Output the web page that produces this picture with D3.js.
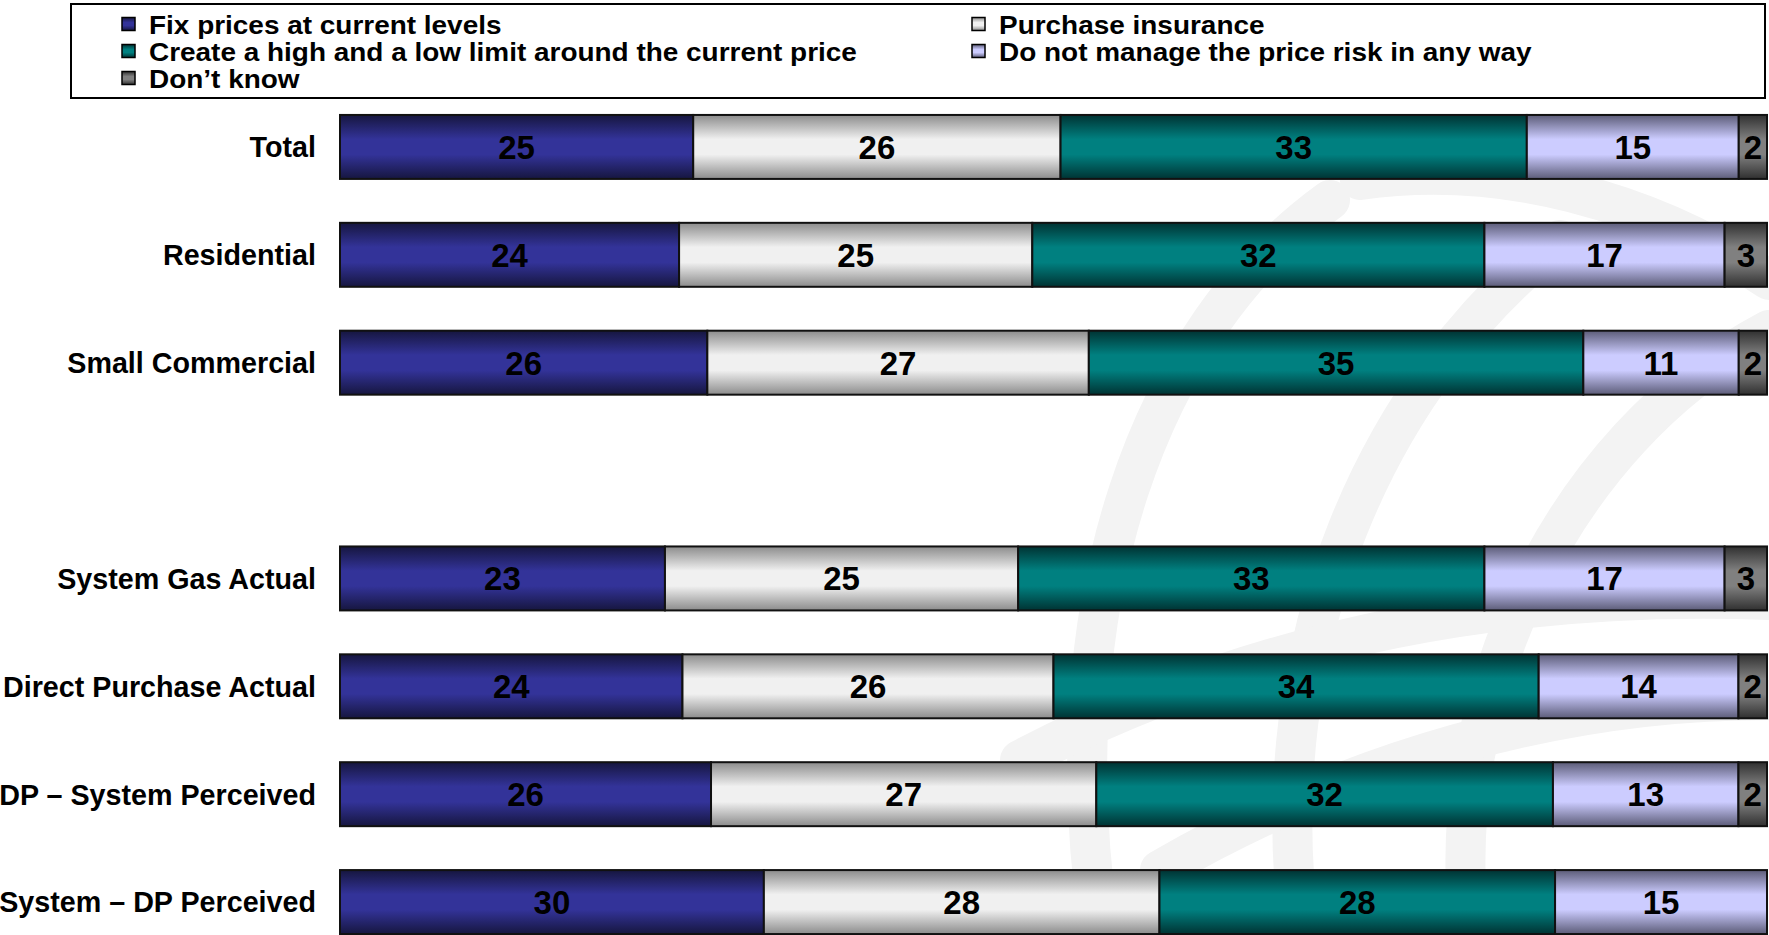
<!DOCTYPE html>
<html>
<head>
<meta charset="utf-8">
<script src="https://cdn.jsdelivr.net/npm/d3@7"></script>
<style>
  html, body { margin: 0; padding: 0; background: #ffffff; overflow: hidden; }
  svg { display: block; }
  text { font-family: "Liberation Sans", Arial, Helvetica, sans-serif; font-weight: bold; }
</style>
</head>
<body>
<script>
// ---------- DATA ----------
const categories = ["Total", "Residential", "Small Commercial", "", "System Gas Actual",
  "Direct Purchase Actual", "DP \u2013 System Perceived", "System \u2013 DP Perceived"];
const seriesNames = ["Fix prices at current levels", "Purchase insurance",
  "Create a high and a low limit around the current price",
  "Do not manage the price risk in any way", "Don\u2019t know"];
const fixPrices   = [25, 24, 26, null, 23, 24, 26, 30];
const insurance   = [26, 25, 27, null, 25, 26, 27, 28];
const highLow     = [33, 32, 35, null, 33, 34, 32, 28];
const noManage    = [15, 17, 11, null, 17, 14, 13, 15];
const dontKnow    = [2, 3, 2, null, 3, 2, 2, 0];
const xDomain = [0, 1];   // 100% stacked bars

// ---------- STYLE ----------
const W = 1769, H = 935;
const colors = [
  { base: "#333399", edge: "#16163f" },
  { base: "#f0f0f0", edge: "#8c8c8c" },
  { base: "#008080", edge: "#003333" },
  { base: "#ccccff", edge: "#5c5c78" },
  { base: "#808080", edge: "#303030" }
];

const svg = d3.select("body").append("svg").attr("width", W).attr("height", H);
const defs = svg.append("defs");
colors.forEach((c, i) => {
  const g = defs.append("linearGradient").attr("id", "g" + i)
    .attr("x1", 0).attr("y1", 0).attr("x2", 0).attr("y2", 1);
  g.append("stop").attr("offset", "0%").attr("stop-color", c.edge);
  g.append("stop").attr("offset", "38%").attr("stop-color", c.base);
  g.append("stop").attr("offset", "62%").attr("stop-color", c.base);
  g.append("stop").attr("offset", "100%").attr("stop-color", c.edge);
});

// ---------- faint background globe (decorative) ----------
const bg = svg.append("g").attr("fill", "none").attr("stroke-linecap", "round");
const arcs = [
  "M1330,200 C1150,330 1050,600 1100,935",
  "M1560,240 C1380,380 1260,640 1300,935",
  "M1769,330 C1560,440 1440,700 1470,935",
  "M1160,870 C1350,760 1560,700 1769,700",
  "M1020,760 C1250,640 1500,590 1769,600",
  "M1360,180 C1500,160 1650,200 1769,280"
];
bg.selectAll("path").data(arcs).join("path")
  .attr("d", d => d)
  .attr("stroke", "#f3f3f3")
  .attr("stroke-width", 40);

// ---------- SCALES ----------
const x = d3.scaleLinear().domain(xDomain).range([340, 1767]);
const y = d3.scaleBand().domain(categories.map((c, i) => i)).range([93, 956])
  .paddingInner(0.407).paddingOuter(0.2035);

const rows = categories.map((c, i) => ({
  idx: i, cat: c,
  s0: fixPrices[i], s1: insurance[i], s2: highLow[i], s3: noManage[i], s4: dontKnow[i]
})).filter(r => r.s0 !== null);

const keys = ["s0", "s1", "s2", "s3", "s4"];
const stacked = d3.stack().keys(keys).offset(d3.stackOffsetExpand)(rows);

// ---------- BARS ----------
const layers = svg.append("g").selectAll("g").data(stacked).join("g")
  .attr("fill", (d, i) => `url(#g${i})`);
layers.selectAll("rect").data(d => d.filter(p => p[1] - p[0] > 0)).join("rect")
  .attr("x", p => x(p[0]))
  .attr("y", p => y(p.data.idx))
  .attr("width", p => x(p[1]) - x(p[0]))
  .attr("height", y.bandwidth())
  .attr("stroke", "#111")
  .attr("stroke-width", 2);

// value labels
const labelsG = svg.append("g");
stacked.forEach((layer, i) => {
  labelsG.selectAll(null).data(layer.filter(p => p[1] - p[0] > 0)).join("text")
    .attr("x", p => x((p[0] + p[1]) / 2))
    .attr("y", p => y(p.data.idx) + y.bandwidth() / 2)
    .attr("dy", "0.36em")
    .attr("text-anchor", "middle")
    .attr("font-size", 33)
    .attr("fill", "#000")
    .text(p => p.data[keys[i]]);
});

// category axis labels
const yAxis = d3.axisLeft(y).tickSize(0).tickPadding(0)
  .tickFormat(i => categories[i]);
const ax = svg.append("g").attr("transform", "translate(316,0)").call(yAxis);
ax.select(".domain").remove();
ax.selectAll("text").attr("font-size", 28.7).attr("fill", "#000")
  .attr("font-family", "'Liberation Sans', Arial, sans-serif").attr("font-weight", "bold")
  .attr("dy", "0.36em");

// ---------- LEGEND ----------
const leg = svg.append("g");
leg.append("rect").attr("x", 71).attr("y", 4).attr("width", 1694).attr("height", 94)
  .attr("fill", "#fff").attr("stroke", "#000").attr("stroke-width", 2);
const legPos = [
  { x: 122, y: 24 }, { x: 972, y: 24 },
  { x: 122, y: 51 }, { x: 972, y: 51 },
  { x: 122, y: 78 }
];
const legOrder = [0, 1, 2, 3, 4];
const sx = 1.055;
const items = leg.selectAll("g.item").data(legOrder).join("g").attr("class", "item")
  .attr("transform", i => `translate(${legPos[i].x},${legPos[i].y})`);
items.append("rect").attr("x", 0).attr("y", -6.5).attr("width", 13).attr("height", 13)
  .attr("fill", i => `url(#g${i})`).attr("stroke", "#000").attr("stroke-width", 1.5);
items.append("text").attr("transform", `translate(27,0) scale(${sx},1)`)
  .attr("x", 0).attr("y", 0).attr("dy", "0.36em")
  .attr("font-size", 26.5).attr("fill", "#000")
  .text(i => seriesNames[i]);
</script>
</body>
</html>
